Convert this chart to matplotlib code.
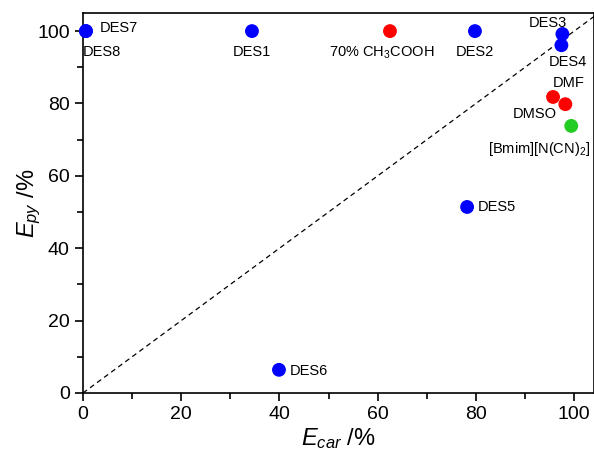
import matplotlib
matplotlib.use('Agg')
import matplotlib.pyplot as plt
from matplotlib.ticker import MultipleLocator

plt.rcParams['font.family'] = ['Liberation Sans', 'DejaVu Sans']
plt.rcParams['mathtext.fontset'] = 'custom'
plt.rcParams['mathtext.rm'] = 'Liberation Sans'
plt.rcParams['mathtext.it'] = 'Liberation Sans:italic'

# data
names = ['DES8', 'DES7', 'DES1', '70% CH$_3$COOH', 'DES2', 'DES3', 'DES4',
         'DMF', 'DMSO', '[Bmim][N(CN)$_2$]', 'DES5', 'DES6']
e_car = [0.6, 0.6, 34.4, 62.5, 79.8, 97.6, 97.4, 95.7, 98.2, 99.4, 78.2, 39.9]
e_py = [100, 100, 100, 100, 100, 99.2, 96.1, 81.8, 79.8, 73.8, 51.4, 6.4]
colors = ['blue', 'blue', 'blue', 'red', 'blue', 'blue', 'blue',
          'red', 'red', '#22cc22', 'blue', 'blue']

# label offsets (points) and alignment
label_pos = {
    'DES8': (-2, -10, 'left', 'top'),
    'DES7': (10, 2, 'left', 'center'),
    'DES1': (0, -10, 'center', 'top'),
    '70% CH$_3$COOH': (-6, -10, 'center', 'top'),
    'DES2': (0, -10, 'center', 'top'),
    'DES3': (3, 3, 'right', 'bottom'),
    'DES4': (-9, -7, 'left', 'top'),
    'DMF': (0, 5, 'left', 'bottom'),
    'DMSO': (-6, -2, 'right', 'top'),
    '[Bmim][N(CN)$_2$]': (14, -10, 'right', 'top'),
    'DES5': (8, 0, 'left', 'center'),
    'DES6': (8, -1, 'left', 'center'),
}

fig = plt.figure(figsize=(5.94, 4.53), dpi=100)
ax = fig.add_axes([0.1397, 0.1325, 0.86, 0.8388])

ax.plot([0, 105], [0, 105], color='black', linestyle=(0, (4, 3)), linewidth=0.9)
ax.scatter(e_car, e_py, s=80, c=colors, zorder=3, clip_on=False)

for n, x, y in zip(names, e_car, e_py):
    dx, dy, ha, va = label_pos[n]
    ax.annotate(n, (x, y), xytext=(dx, dy), textcoords='offset points',
                ha=ha, va=va, fontsize=10.5)

ax.set_xlim(0, 104)
ax.set_ylim(0, 105)
ax.xaxis.set_major_locator(MultipleLocator(20))
ax.xaxis.set_minor_locator(MultipleLocator(10))
ax.yaxis.set_major_locator(MultipleLocator(20))
ax.yaxis.set_minor_locator(MultipleLocator(10))
ax.tick_params(which='both', direction='out', width=1.2, labelsize=14)
ax.tick_params(which='major', length=6)
ax.tick_params(which='minor', length=4)
for s in ax.spines.values():
    s.set_linewidth(1.2)

ax.set_xlabel('$E_{car}$ /%', fontsize=17, labelpad=2)
ax.set_ylabel('$E_{py}$ /%', fontsize=17, labelpad=-4)

fig.savefig('out.png')
